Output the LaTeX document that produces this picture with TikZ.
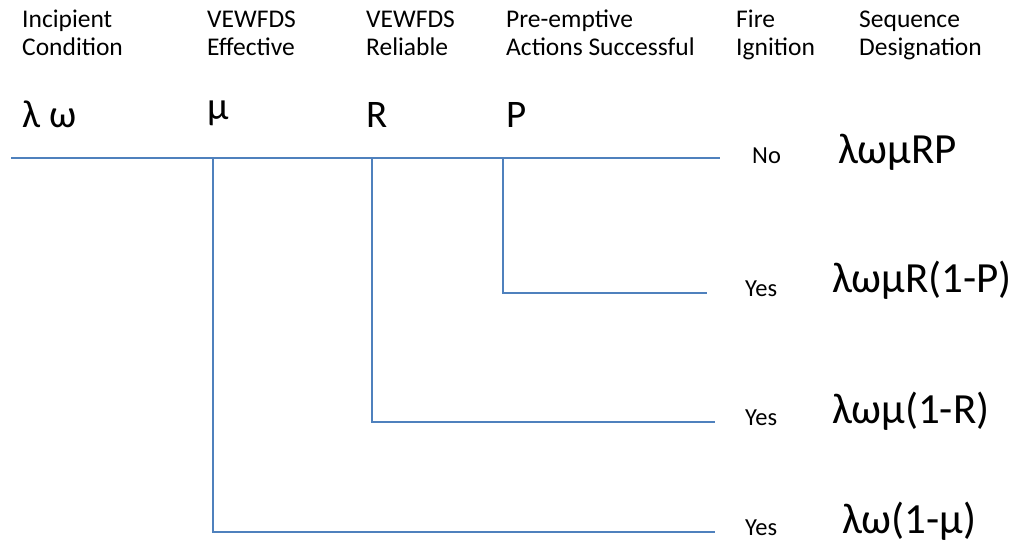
\documentclass[tikz,border=0pt]{standalone}
\usepackage{fontspec}
\setmainfont{Carlito}
\usetikzlibrary{positioning}

\definecolor{treeblue}{HTML}{4F81BD}
\tikzset{
  branch/.style={draw=treeblue, line width=1.2pt},
  head/.style={anchor=base west, inner sep=0pt, font=\fontsize{25.5}{28}\selectfont},
  sym/.style={anchor=base west, inner sep=0pt, font=\fontsize{39}{44}\selectfont},
  seqlabel/.style={anchor=base west, inner sep=0pt, font=\fontsize{43}{48}\selectfont},
  answer/.style={anchor=base west, inner sep=0pt, font=\fontsize{24.5}{28}\selectfont},
}

\begin{document}
\begin{tikzpicture}[x=1pt,y=-1pt]
\useasboundingbox (0,0) rectangle (1016,544);

% column headings
\foreach \x/\n/\a/\b in {22/ic/Incipient/Condition, 207/eff/VEWFDS/Effective,
    366/rel/VEWFDS/Reliable, 506/pre/Pre-emptive/Actions Successful,
    736/fire/Fire/Ignition, 859/seq/Sequence/Designation} {
  \node[head] (\n-a) at (\x,27) {\a};
  \node[head] (\n-b) at (\x,55) {\b};
}

% event symbols
\node[sym] (lw) at (22,127) {λ ω};
\node[sym] (mu) at (207,119) {μ};
\node[sym] (r) at (366,127) {R};
\node[sym] (p) at (506,127) {P};

% tree
\coordinate (root) at (11,158);
\coordinate (top) at (720,158);
\coordinate (bmu) at (213,158);
\coordinate (br) at (372,158);
\coordinate (bp) at (503,158);
\coordinate (endp) at (707,293);
\coordinate (endr) at (715,422);
\coordinate (endmu) at (715,532);
\draw[branch] (root) -- (top);
\draw[branch] (bp) |- (endp);
\draw[branch] (br) |- (endr);
\draw[branch] (bmu) |- (endmu);

% outcomes
\node[answer] (no) at (752,163) {No};
\node[answer] (yp) at (745,296) {Yes};
\node[answer] (yr) at (745,425) {Yes};
\node[answer] (ymu) at (745,535) {Yes};
\node[seqlabel] (s1) at (838,163) {λωμRP};
\node[seqlabel] (s2) at (832,292) {λωμR(1-P)};
\node[seqlabel] (s3) at (832,423) {λωμ(1-R)};
\node[seqlabel] (s4) at (842,533) {λω(1-μ)};
\end{tikzpicture}
\end{document}
